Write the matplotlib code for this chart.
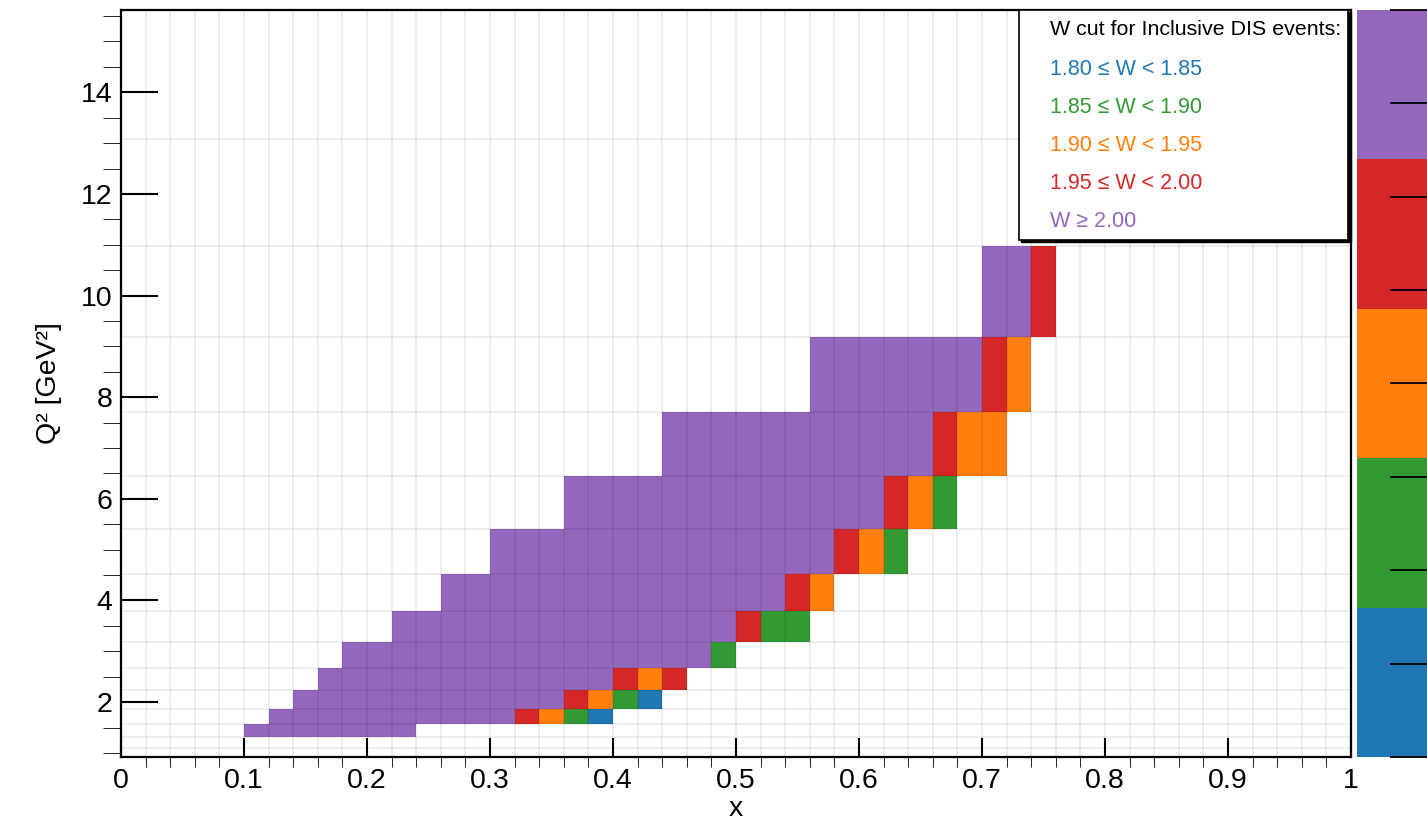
import numpy as np
import matplotlib.pyplot as plt
from matplotlib.colors import ListedColormap, BoundaryNorm
from matplotlib.patches import Rectangle

plt.rcParams['font.family'] = ['Liberation Sans', 'DejaVu Sans']

# binning: x in steps of 0.02, Q2 in log-spaced bins
x_edges = np.round(np.arange(0, 1.0001, 0.02), 2)
q2_edges = [0.92, 1.10, 1.31, 1.57, 1.87, 2.23, 2.67, 3.18, 3.80, 4.53,
            5.41, 6.45, 7.70, 9.19, 10.97, 13.09, 15.62]

# W-cut class per filled bin: 1 = [1.80,1.85) ... 4 = [1.95,2.00), 5 = W >= 2.00
row_q2_bin = [2, 3, 4, 5, 6, 7, 8, 9, 10, 11, 12, 13]
w200_lo = [0.10, 0.12, 0.14, 0.16, 0.18, 0.22, 0.26, 0.30, 0.36, 0.44, 0.56, 0.70]
w200_hi = [0.24, 0.32, 0.36, 0.40, 0.48, 0.50, 0.54, 0.58, 0.62, 0.66, 0.70, 0.74]
edge_bins = [[], [4, 3, 2, 1], [4, 3, 2, 1], [4, 3, 4], [2], [4, 2, 2],
             [4, 3], [4, 3, 2], [4, 3, 2], [4, 3, 3], [4, 3], [4]]

colors = ['#1f77b4', '#339a33', '#ff7f0e', '#d62728', '#9467bd']
labels = ['1.80 \u2264 W < 1.85', '1.85 \u2264 W < 1.90', '1.90 \u2264 W < 1.95',
          '1.95 \u2264 W < 2.00', 'W \u2265 2.00']

cls = np.zeros((len(q2_edges) - 1, len(x_edges) - 1))
for q, lo, hi, tail in zip(row_q2_bin, w200_lo, w200_hi, edge_bins):
    i_lo, i_hi = int(round(lo / 0.02)), int(round(hi / 0.02))
    cls[q, i_lo:i_hi] = 5
    for k, c in enumerate(tail):
        cls[q, i_hi + k] = c
cls = np.ma.masked_equal(cls, 0)

cmap = ListedColormap(colors)
norm = BoundaryNorm([0.5, 1.5, 2.5, 3.5, 4.5, 5.5], cmap.N)

fig = plt.figure(figsize=(14.27, 8.19), dpi=100)
ax = fig.add_axes([0.0848, 0.0757, 0.8619, 0.9121])
ax.pcolormesh(x_edges, q2_edges, cls, cmap=cmap, norm=norm, zorder=1)

# grid along the bin edges
ax.vlines(x_edges[1:-1], q2_edges[0], q2_edges[-1], color='k', alpha=0.09, lw=1.1, zorder=2)
ax.hlines(q2_edges[1:-1], 0, 1, color='k', alpha=0.09, lw=1.1, zorder=2)

ax.set_xlim(0, 1)
ax.set_ylim(q2_edges[0], q2_edges[-1])
ax.set_xticks(np.arange(0, 1.01, 0.1))
ax.set_xticklabels(['0', '0.1', '0.2', '0.3', '0.4', '0.5', '0.6', '0.7', '0.8', '0.9', '1'])
ax.set_xticks(np.arange(0, 1.001, 0.02), minor=True)
ax.set_yticks([2, 4, 6, 8, 10, 12, 14])
ax.set_yticks(np.arange(1, 15.6, 0.5), minor=True)
ax.tick_params(direction='in', width=1.5, labelsize=20.5, top=False, right=False)
ax.tick_params(axis='x', which='major', length=13.7, pad=8)
ax.tick_params(axis='x', which='minor', length=7)
ax.tick_params(axis='y', which='major', length=26.6, pad=6)
ax.tick_params(axis='y', which='minor', length=13)
for s in ax.spines.values():
    s.set_linewidth(1.6)

ax.set_xlabel('x', fontsize=20.5, labelpad=1)
ax.set_ylabel('Q\u00b2 [GeV\u00b2]', fontsize=20.5, labelpad=14)

# legend box with shadow
lx0, ly0, lw_, lh_ = 0.730, 0.692, 0.268, 0.308
ax.add_patch(Rectangle((lx0 + 0.002, ly0 - 0.003), lw_, lh_, transform=ax.transAxes,
                       facecolor='k', edgecolor='k', zorder=5, clip_on=False))
ax.add_patch(Rectangle((lx0, ly0), lw_, lh_, transform=ax.transAxes,
                       facecolor='white', edgecolor='k', lw=1.2, zorder=6, clip_on=False))
tx = 0.7553
ax.text(tx, 0.9745, 'W cut for Inclusive DIS events:', transform=ax.transAxes,
        fontsize=15.4, va='center', ha='left', zorder=7)
for k, (lab, col) in enumerate(zip(labels, colors)):
    ax.text(tx, 0.921 - k * 0.0509, lab, transform=ax.transAxes, color=col,
            fontsize=15.5, va='center', ha='left', zorder=7)

# colour scale
cax = fig.add_axes([0.951, 0.0757, 0.049, 0.9121])
cax.pcolormesh([0, 1], np.arange(0.5, 6.0, 1.0), np.arange(1, 6).reshape(-1, 1),
               cmap=cmap, norm=norm)
cax.set_xlim(0, 1)
cax.set_ylim(0.5, 5.5)
cax.set_xticks([])
cax.set_yticks(np.linspace(0.5, 5.5, 9))
cax.yaxis.tick_right()
cax.tick_params(axis='y', direction='in', length=27, width=1.3, labelright=False)
for s in cax.spines.values():
    s.set_visible(False)

fig.savefig('out.png', dpi=100)
